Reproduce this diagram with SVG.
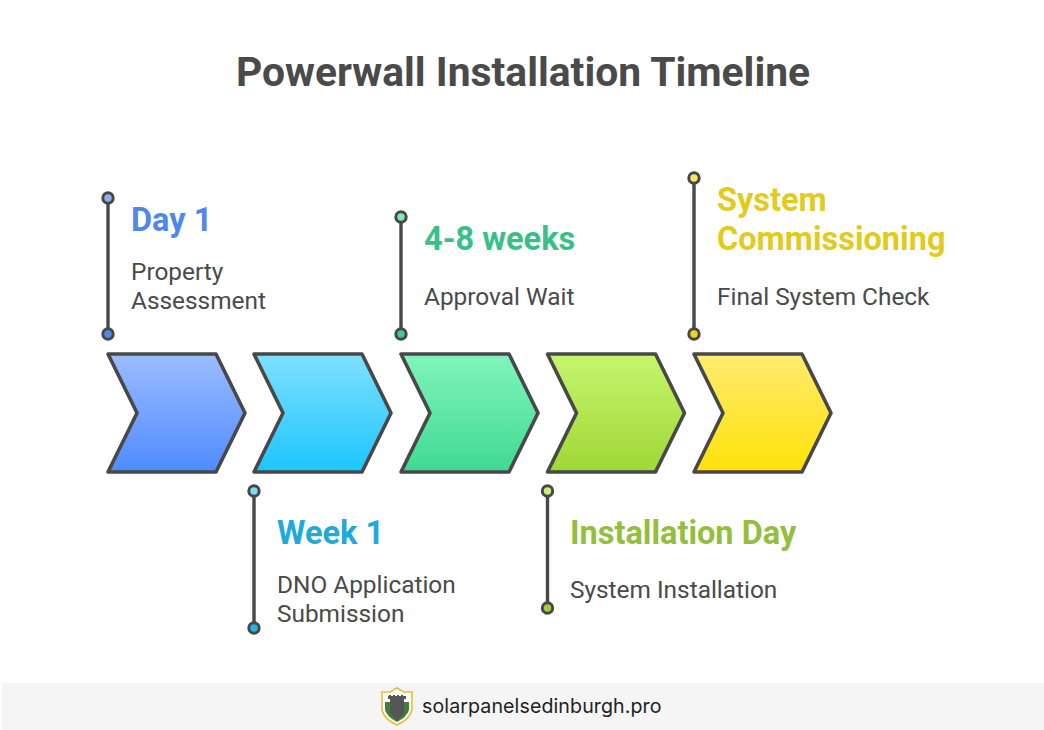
<svg xmlns="http://www.w3.org/2000/svg" width="1044" height="730" viewBox="0 0 1044 730">
<style>
.t{font-family:Roboto,"Liberation Sans",sans-serif}
.h{font-size:32.5px;font-weight:700}
.d{font-size:24.4px;fill:#4a4a4a}
.c{stroke:#484848;stroke-width:3.6;stroke-linejoin:round}
.l{stroke:#484848;stroke-width:3.4;fill:none}
.p{stroke:#484848;stroke-width:3}
</style>
<defs>
<linearGradient id="g1" x1="0" y1="0" x2="0" y2="1"><stop offset="0" stop-color="#9cbcff"/><stop offset="1" stop-color="#4f8bff"/></linearGradient>
<linearGradient id="g2" x1="0" y1="0" x2="0" y2="1"><stop offset="0" stop-color="#80dfff"/><stop offset="1" stop-color="#1cc6ff"/></linearGradient>
<linearGradient id="g3" x1="0" y1="0" x2="0" y2="1"><stop offset="0" stop-color="#80f5bc"/><stop offset="1" stop-color="#40d992"/></linearGradient>
<linearGradient id="g4" x1="0" y1="0" x2="0" y2="1"><stop offset="0" stop-color="#c5f56e"/><stop offset="1" stop-color="#a0d835"/></linearGradient>
<linearGradient id="g5" x1="0" y1="0" x2="0" y2="1"><stop offset="0" stop-color="#ffeb70"/><stop offset="1" stop-color="#ffe208"/></linearGradient>
<path id="chev" d="M0 0H108L137 59L108 118H0L29 59Z"/>
</defs>
<rect width="1044" height="730" fill="#fff"/>
<text class="t" x="523" y="86" text-anchor="middle" font-size="40.8" font-weight="700" fill="#4a4a4a">Powerwall Installation Timeline</text>
<g id="connectors">
<line class="l" x1="108" y1="198" x2="108" y2="334"/>
<line class="l" x1="254" y1="491" x2="254" y2="628"/>
<line class="l" x1="401" y1="217" x2="401" y2="334"/>
<line class="l" x1="547.500" y1="491" x2="547.500" y2="608"/>
<line class="l" x1="694" y1="178" x2="694" y2="334"/>
</g>
<g id="step1">
<use href="#chev" x="108" y="354" fill="url(#g1)" class="c"/>
<circle class="p" cx="108" cy="198" r="5.200" fill="#8fb0f0"/><circle class="p" cx="108" cy="334" r="5.200" fill="#4f8bf0"/>
<text class="t h" x="131" y="230.500" fill="#4e88e8">Day 1</text>
<text class="t d" x="131" y="280">Property</text><text class="t d" x="131" y="309">Assessment</text>
</g>
<g id="step2">
<use href="#chev" x="254" y="354" fill="url(#g2)" class="c"/>
<circle class="p" cx="254" cy="491" r="5.200" fill="#80d8f5"/><circle class="p" cx="254" cy="628" r="5.200" fill="#20b8e6"/>
<text class="t h" x="277" y="543.500" fill="#20aadc">Week 1</text>
<text class="t d" x="277" y="593">DNO Application</text><text class="t d" x="277" y="622">Submission</text>
</g>
<g id="step3">
<use href="#chev" x="401" y="354" fill="url(#g3)" class="c"/>
<circle class="p" cx="401" cy="217" r="5.200" fill="#80eab6"/><circle class="p" cx="401" cy="334" r="5.200" fill="#40cc90"/>
<text class="t h" x="424" y="249.500" fill="#38c088">4-8 weeks</text>
<text class="t d" x="424" y="304.500">Approval Wait</text>
</g>
<g id="step4">
<use href="#chev" x="547.500" y="354" fill="url(#g4)" class="c"/>
<circle class="p" cx="547.500" cy="491" r="5.200" fill="#c8f078"/><circle class="p" cx="547.500" cy="608" r="5.200" fill="#a0d040"/>
<text class="t h" x="570" y="543.500" fill="#92c03c">Installation Day</text>
<text class="t d" x="570" y="598">System Installation</text>
</g>
<g id="step5">
<use href="#chev" x="694" y="354" fill="url(#g5)" class="c"/>
<circle class="p" cx="694" cy="178" r="5.200" fill="#f8e860"/><circle class="p" cx="694" cy="334" r="5.200" fill="#f0d818"/>
<text class="t h" x="717" y="211" fill="#e2cb1c">System</text><text class="t h" x="717" y="250" fill="#e2cb1c">Commissioning</text>
<text class="t d" x="717" y="304.500">Final System Check</text>
</g>
<g id="footer">
<rect x="2" y="683" width="1042" height="47" fill="#f5f5f5"/>
<path d="M382 692L390 692L397 688L404 692L412 692V710Q410 719 397 725Q384 719 382 710Z" fill="#fff" stroke="#e8bc38" stroke-width="1.6"/>
<path d="M385 702H409V710Q407 717 397 722Q387 717 385 710Z" fill="#3f7f3c"/>
<path d="M388 696H406V699H404V713L397 721L390 713V699H388Z" fill="#555"/>
<path d="M389 695h2v2h-2zM393 695h2v2h-2zM397 695h2v2h-2zM401 695h2v2h-2z" fill="#555"/>
<text x="422" y="713" font-family="Inter,'Liberation Sans',sans-serif" font-size="19.600" letter-spacing=".1" fill="#222">solarpanelsedinburgh.pro</text>
</g>
</svg>
